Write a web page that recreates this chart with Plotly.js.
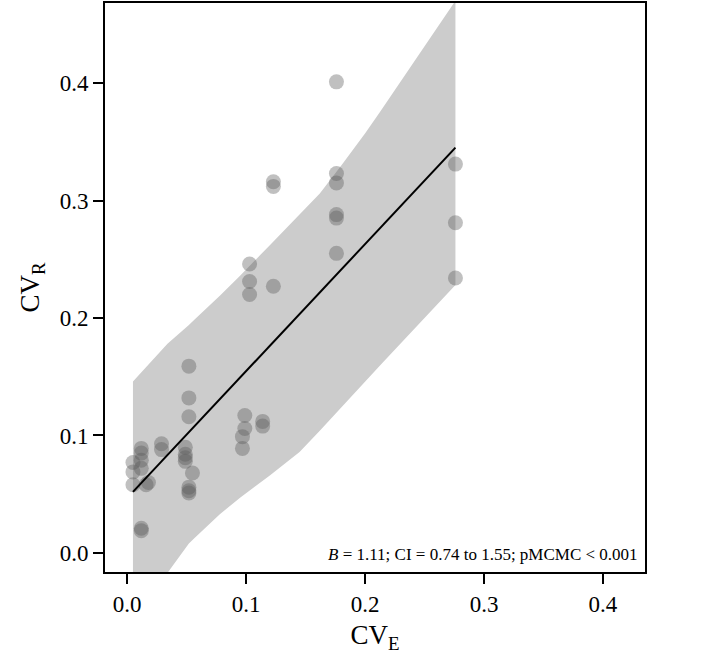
<!DOCTYPE html>
<html>
<head>
<meta charset="utf-8">
<script src="https://cdn.plot.ly/plotly-3.0.1.min.js"></script>
<style>html,body{margin:0;padding:0;background:#fff;}</style>
</head>
<body>
<div id="chart" style="width:709px;height:664px;"></div>
<script>
// Observed points: CV_E (x) and CV_R (y)
const cvE = [0.005, 0.005, 0.005, 0.012, 0.012, 0.012, 0.012, 0.018, 0.016, 0.012, 0.012,
             0.029, 0.029, 0.049, 0.049, 0.049, 0.049, 0.055, 0.052, 0.052, 0.052,
             0.052, 0.052, 0.052, 0.099, 0.099, 0.097, 0.097, 0.114, 0.114,
             0.103, 0.103, 0.103, 0.123, 0.123, 0.123,
             0.176, 0.176, 0.176, 0.176, 0.176, 0.176,
             0.276, 0.276, 0.276];
const cvR = [0.077, 0.069, 0.058, 0.089, 0.085, 0.079, 0.072, 0.060, 0.058, 0.021, 0.019,
             0.093, 0.088, 0.090, 0.084, 0.081, 0.078, 0.068, 0.056, 0.053, 0.051,
             0.159, 0.132, 0.116, 0.117, 0.106, 0.099, 0.089, 0.112, 0.108,
             0.246, 0.231, 0.220, 0.316, 0.312, 0.227,
             0.401, 0.323, 0.315, 0.288, 0.285, 0.255,
             0.331, 0.281, 0.234];
// Fitted line
const fitX = [0.005, 0.276];
const fitY = [0.052, 0.345];
// Credible band
const bandX = [0.005, 0.034, 0.052, 0.057, 0.078, 0.095, 0.120, 0.145, 0.162, 0.181, 0.200, 0.213, 0.276];
const bandUpper = [0.146, 0.178, 0.194, 0.199, 0.219, 0.236, 0.262, 0.288, 0.306, 0.331, 0.357, 0.376, 0.470];
const bandLower = [-0.070, -0.017, 0.008, 0.013, 0.033, 0.047, 0.066, 0.086, 0.104, 0.125, 0.146, 0.160, 0.228];
const xTicks = [0.0, 0.1, 0.2, 0.3, 0.4];
const yTicks = [0.0, 0.1, 0.2, 0.3, 0.4];
const annText = "<i>B</i> = 1.11; CI = 0.74 to 1.55; pMCMC < 0.001";

const fontFam = "Liberation Serif, Times New Roman, serif";

const traces = [
  {x: bandX, y: bandLower, mode: 'lines', line: {width: 0, color: 'rgba(0,0,0,0)'}, hoverinfo: 'skip', showlegend: false},
  {x: bandX, y: bandUpper, mode: 'lines', fill: 'tonexty', fillcolor: '#cccccc', line: {width: 0, color: 'rgba(0,0,0,0)'}, hoverinfo: 'skip', showlegend: false},
  {x: cvE, y: cvR, mode: 'markers', type: 'scatter', marker: {size: 15, color: 'rgba(90,90,90,0.38)', line: {width: 0}}, showlegend: false},
  {x: fitX, y: fitY, mode: 'lines', line: {color: '#000', width: 2}, showlegend: false}
];

const axisCommon = {
  showgrid: false, zeroline: false, showline: true, linecolor: '#000', linewidth: 2, mirror: true,
  ticks: 'outside', ticklen: 10, tickwidth: 2, tickcolor: '#000',
  tickfont: {family: fontFam, size: 23, color: '#000'}, tickformat: '.1f'
};

const layout = {
  width: 709, height: 664,
  margin: {l: 105, r: 64, t: 3, b: 92},
  paper_bgcolor: '#fff', plot_bgcolor: '#fff',
  font: {family: fontFam, color: '#000'},
  xaxis: Object.assign({}, axisCommon, {
    range: [-0.0185, 0.4353], tickvals: xTicks,
    title: {text: 'CV<sub>E</sub>', font: {family: fontFam, size: 27, color: '#000'}, standoff: 10}
  }),
  yaxis: Object.assign({}, axisCommon, {
    range: [-0.0162, 0.4681], tickvals: yTicks,
    title: {text: 'CV<sub>R</sub>', font: {family: fontFam, size: 27, color: '#000'}, standoff: 12}
  }),
  annotations: [{
    text: annText, xref: 'paper', yref: 'paper', x: 0.99, y: 0.01,
    xanchor: 'right', yanchor: 'bottom', showarrow: false,
    font: {family: fontFam, size: 17, color: '#000'}
  }]
};

Plotly.newPlot('chart', traces, layout, {displayModeBar: false, staticPlot: true});
</script>
</body>
</html>
